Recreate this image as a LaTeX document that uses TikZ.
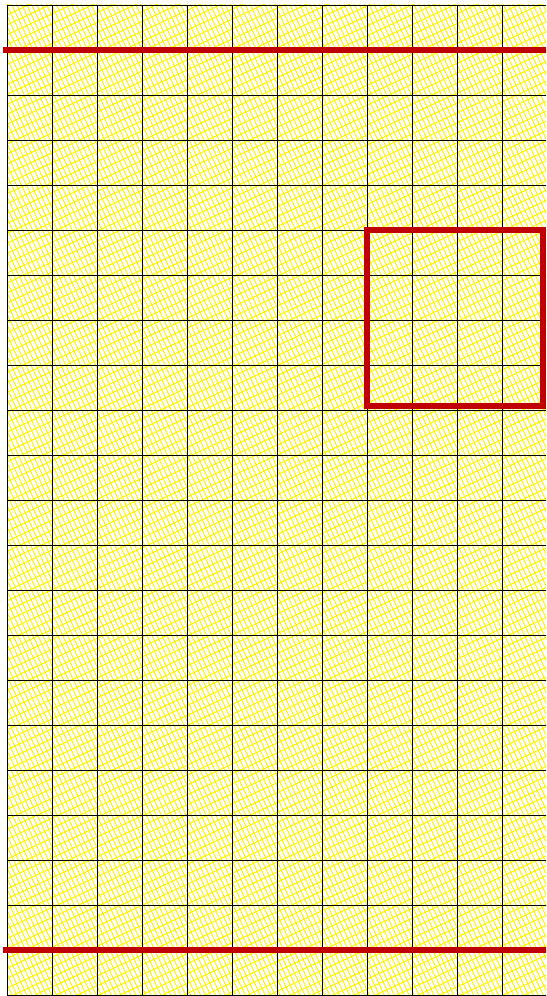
\documentclass[tikz,border=0pt]{standalone}
\usetikzlibrary{calc}
\definecolor{markred}{RGB}{192,0,0}

\begin{document}
\begin{tikzpicture}[
    gridline/.style={draw=black, line width=0.5pt},
    hatchline/.style={draw=yellow, line width=0.6pt},
    redline/.style={draw=markred, line width=4pt}]
\clip (-0.156,0.111) rectangle (11.978,-22.022);
\fill[white] (-0.156,0.111) rectangle (11.978,-22.022);

% hatching
\begin{scope}
\clip (0,0) rectangle (12.5,-23);
\draw[hatchline, rotate=25, xstep=0.1, ystep=0.2] (-11,-27) grid (12,1);
\end{scope}

\draw[gridline] (0,0) grid (12.5,-22.5);

\draw[redline] (-0.09,-1) -- (12.5,-1);
\draw[redline] (-0.09,-21) -- (12.5,-21);
\draw[redline] (8,-5) rectangle (11.91,-8.91);
\end{tikzpicture}
\end{document}
